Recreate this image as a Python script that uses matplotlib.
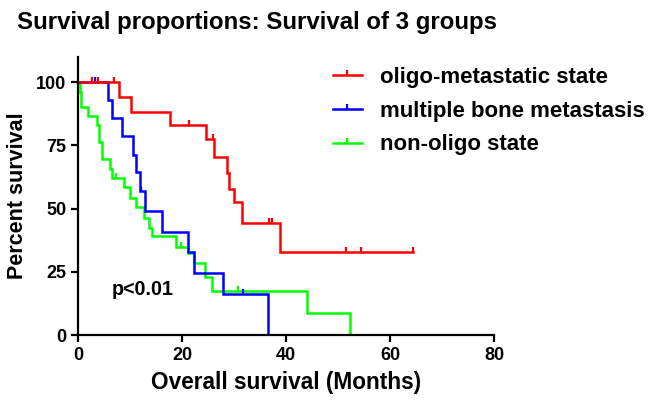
import numpy as np
import matplotlib
matplotlib.use('Agg')
import matplotlib.pyplot as plt
from matplotlib.path import Path
from matplotlib.lines import Line2D

plt.rcParams['font.family'] = ['Liberation Sans', 'DejaVu Sans']
plt.rcParams['font.weight'] = 'bold'

# Kaplan-Meier steps (time in months, percent surviving after the drop)
red_t = [0, 7.8, 10.1, 17.6, 24.6, 26.2, 28.7, 29.1, 30.0, 31.6, 38.8, 64.5]
red_s = [100, 94.1, 88.3, 83.0, 77.4, 70.6, 64.2, 57.8, 52.5, 44.3, 33.0, 33.0]
red_cens = [2.6, 3.9, 6.9, 21.4, 26.0, 36.7, 37.4, 51.5, 54.4, 64.5]

blue_t = [0, 5.7, 6.5, 8.4, 10.5, 11.2, 11.9, 12.8, 16.1, 21.2, 22.3, 27.9, 36.6]
blue_s = [100, 92.9, 85.7, 78.6, 71.4, 64.3, 57.1, 49.0, 40.8, 32.7, 24.5, 16.3, 0]
blue_cens = [3.3, 12.2, 31.8]

green_t = [0, 0.3, 0.6, 2.0, 3.7, 4.0, 4.6, 6.2, 6.5, 8.8, 10.0, 11.1, 12.6, 13.6,
           14.2, 18.9, 21.2, 22.4, 24.4, 25.8, 44.1, 52.3]
green_s = [100, 96.2, 90.4, 86.6, 83.0, 76.3, 69.7, 65.5, 62.2, 58.5, 54.2, 50.6, 46.3, 42.5,
           39.0, 35.0, 32.4, 28.4, 23.1, 17.4, 8.6, 0]
green_cens = [7.4, 19.9, 30.8]

names = ['oligo-metastatic state', 'multiple bone metastasis', 'non-oligo state']
colors = ['#FF0000', '#0000FF', '#00FF00']

# censor tick pointing upward from the curve
tick = Path([[0, 0], [0, 1]])


def surv_at(ts, ss, t):
    idx = np.searchsorted(ts, t, side='right') - 1
    return ss[idx]


fig = plt.figure(figsize=(6.5, 4.05), dpi=100)
ax = fig.add_axes([78 / 650, 1 - 335 / 405, 416 / 650, 278 / 405])

curves = [(green_t, green_s, green_cens, colors[2]),
          (blue_t, blue_s, blue_cens, colors[1]),
          (red_t, red_s, red_cens, colors[0])]
for ts, ss, cens, c in curves:
    ax.step(ts, ss, where='post', color=c, lw=1.8, solid_joinstyle='miter')
    cy = [surv_at(ts, ss, t) for t in cens]
    ax.plot(cens, cy, ls='none', marker=tick, markersize=7, mec=c, mew=1.6)

ax.set_xlim(0, 80)
ax.set_ylim(0, 110)
ax.set_xticks([0, 20, 40, 60, 80])
ax.set_yticks([0, 25, 50, 75, 100])
for s in ['top', 'right']:
    ax.spines[s].set_visible(False)
for s in ['left', 'bottom']:
    ax.spines[s].set_linewidth(1.6)
ax.tick_params(width=1.6, length=5, labelsize=13)

ax.set_xlabel('Overall survival (Months)', fontsize=16.3, fontweight='bold', labelpad=5)
ax.set_ylabel('Percent survival', fontsize=15.5, fontweight='bold', labelpad=6)
fig.text(17 / 650, 1 - 23 / 405, 'Survival proportions: Survival of 3 groups',
         fontsize=17.3, fontweight='bold', va='center', ha='left')
ax.text(6.4, 18, 'p<0.01', fontsize=14.2, fontweight='bold', va='center', ha='left')

handles = [Line2D([], [], color=c, lw=1.8, marker=tick, markersize=7, mew=1.6) for c in colors]
fig.legend(handles, names, loc='upper left', bbox_to_anchor=(333 / 650, 1 - 67 / 405),
           frameon=False, fontsize=16, handlelength=1.3, handletextpad=0.8,
           labelspacing=0.57, borderpad=0, borderaxespad=0, numpoints=1)

fig.savefig('out.png', dpi=100)
